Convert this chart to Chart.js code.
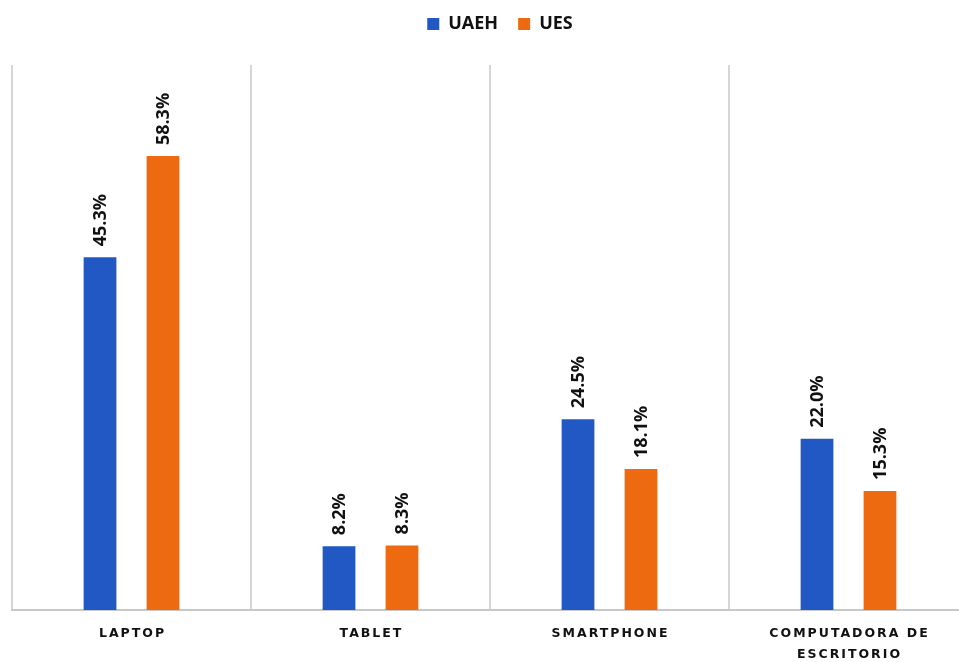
<!DOCTYPE html>
<html>
<head>
<meta charset="utf-8">
<script src="https://cdn.jsdelivr.net/npm/chart.js@4.4.0/dist/chart.umd.min.js"></script>
<style>
    html, body { margin: 0; padding: 0; background: #fff; overflow: hidden; }
    #wrap { width: 968px; height: 662px; }
</style>
</head>
<body>
<div id="wrap"><canvas id="deviceChart"></canvas></div>
<script>
// Device usage by university
const categories = [['LAPTOP'], ['TABLET'], ['SMARTPHONE'], ['COMPUTADORA DE', 'ESCRITORIO']];
const seriesNames = ['UAEH', 'UES'];
const uaehValues = [45.3, 8.2, 24.5, 22.0];
const uesValues = [58.3, 8.3, 18.1, 15.3];
const seriesColors = ['#2158c4', '#ee6a10'];

// Rotated percentage labels above each bar
const barLabels = {
    id: 'barLabels',
    afterDatasetsDraw(chart) {
        const ctx = chart.ctx;
        ctx.save();
        ctx.font = 'bold 18px "Open Sans", sans-serif';
        ctx.fillStyle = '#111';
        ctx.textAlign = 'left';
        ctx.textBaseline = 'middle';
        chart.data.datasets.forEach((ds, i) => {
            chart.getDatasetMeta(i).data.forEach((bar, j) => {
                ctx.save();
                ctx.translate(bar.x + 1, bar.y - 11);
                ctx.rotate(-Math.PI / 2);
                ctx.fillText(ds.data[j].toFixed(1) + '%', 0, 0);
                ctx.restore();
            });
        });
        ctx.restore();
    }
};

// Spaced-out category names under the axis
const categoryLabels = {
    id: 'categoryLabels',
    afterDraw(chart) {
        const ctx = chart.ctx;
        const xScale = chart.scales.x;
        const spacing = 2;
        ctx.save();
        ctx.font = 'bold 12.5px "DejaVu Sans", sans-serif';
        ctx.fillStyle = '#111';
        ctx.textAlign = 'center';
        ctx.textBaseline = 'middle';
        ctx.letterSpacing = spacing + 'px';
        categories.forEach((lines, i) => {
            const x = xScale.getPixelForValue(i) + spacing / 2;
            lines.forEach((line, k) => {
                ctx.fillText(line, x, chart.chartArea.bottom + 24 + k * 21);
            });
        });
        ctx.restore();
    }
};

// Give the legend a taller box so the plot starts lower, nudge it right
const legendSpace = {
    id: 'legendSpace',
    afterInit(chart) {
        const legend = chart.legend;
        const fit = legend.fit;
        legend.fit = function () {
            fit.call(this);
            this.height = 70;
        };
    },
    afterLayout(chart) {
        chart.legend.left += 10;
        chart.legend.right += 10;
    }
};

const chart = new Chart(document.getElementById('deviceChart'), {
    type: 'bar',
    data: {
        labels: categories,
        datasets: [
            { label: seriesNames[0], data: uaehValues, backgroundColor: seriesColors[0] },
            { label: seriesNames[1], data: uesValues, backgroundColor: seriesColors[1] }
        ]
    },
    options: {
        responsive: true,
        maintainAspectRatio: false,
        animation: false,
        categoryPercentage: 0.527,
        barPercentage: 0.52,
        layout: {
            padding: { left: 12, right: 0, top: -5, bottom: 52 }
        },
        plugins: {
            legend: {
                position: 'top',
                labels: {
                    boxWidth: 12,
                    boxHeight: 12,
                    padding: 20,
                    color: '#111',
                    font: { family: '"Open Sans", sans-serif', size: 18, weight: 'bold' }
                }
            },
            tooltip: { enabled: false }
        },
        scales: {
            x: {
                grid: { color: '#d6d6d6', lineWidth: 2, offset: true, drawTicks: false },
                border: { color: '#c8c8c8', width: 2 },
                ticks: { display: false }
            },
            y: {
                display: false,
                min: 0,
                max: 70
            }
        }
    },
    plugins: [barLabels, categoryLabels, legendSpace]
});
</script>
</body>
</html>
